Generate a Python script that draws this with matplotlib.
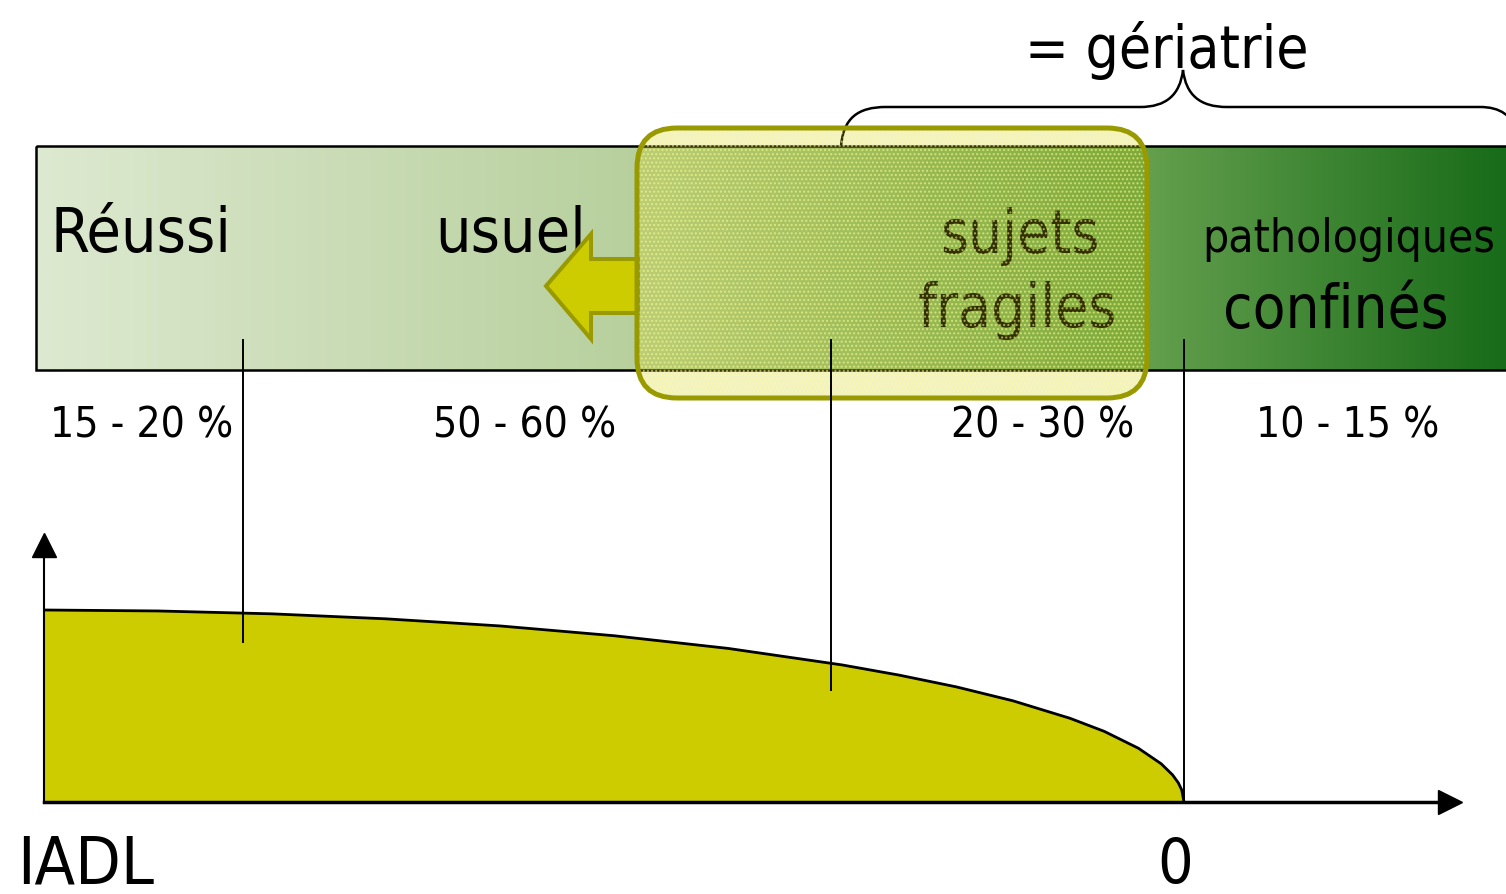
import matplotlib
matplotlib.use("Agg")
import matplotlib.pyplot as plt
import numpy as np
from matplotlib.colors import LinearSegmentedColormap
from matplotlib.patches import Rectangle, FancyBboxPatch, Polygon, PathPatch
from matplotlib.path import Path

# data
categories = ["Réussi", "usuel", "sujets\nfragiles", "pathologiques\nconfinés"]
shares = ["15 - 20 %", "50 - 60 %", "20 - 30 %", "10 - 15 %"]
# population position (%) and IADL level
pop = [0, 10, 20, 30, 40, 50, 60, 70, 75, 80, 85, 90, 93, 96, 98, 99, 99.5, 99.8, 100]
iadl = [100, 99.5, 98, 95.4, 91.7, 86.6, 80, 71.4, 66.1, 60, 52.7, 43.6, 36.8,
        28, 19.9, 14.1, 10, 6.3, 0]
# separators between groups (population %) and where they stop on the IADL axis
sep_pop = [17.5, 69, 100]
sep_low = [83.3, 58.3, 0]

W, H = 1506, 894
fig = plt.figure(figsize=(W / 100, H / 100), dpi=100)
ax = fig.add_axes([0, 0, 1, 1])
ax.set_xlim(0, W)
ax.set_ylim(H, 0)
ax.axis("off")

font = dict(family="DejaVu Sans", fontstretch="condensed", color="black")

# gradient bar
cmap = LinearSegmentedColormap.from_list(
    "bar", [(0, "#dde9d0"), (0.4, "#b8d09e"), (0.75, "#65a04e"), (1, "#176b18")])
grad = np.linspace(0, 1, 512)[None, :]
ax.imshow(grad, cmap=cmap, aspect="auto", extent=[36, 1512, 370, 146], zorder=1)
ax.add_patch(Rectangle((36, 146), 1476, 224, fill=False, ec="black", lw=1.8, zorder=2))

# category labels
ax.text(51, 252, "Réussi", fontsize=45, va="baseline", ha="left", zorder=3, **font)
ax.text(435, 252, "usuel", fontsize=45, va="baseline", ha="left", zorder=3, **font)
ax.text(1020, 253, "sujets", fontsize=43, va="baseline", ha="center", zorder=3, **font)
ax.text(1017, 327, "fragiles", fontsize=43, va="baseline", ha="center", zorder=3, **font)
ax.text(1349, 252, "pathologiques", fontsize=33, va="baseline", ha="center", zorder=3, **font)
ax.text(1336, 328, "confinés", fontsize=43, va="baseline", ha="center", zorder=3, **font)

# shares under the bar
for x, s in zip([50, 433, 951, 1256], shares):
    ax.text(x, 438, s, fontsize=30.5, va="baseline", ha="left", **font)

# arrow pointing left
arrow = Polygon([(546, 286), (591, 234), (591, 259), (638, 259), (638, 313),
                 (591, 313), (591, 339)], closed=True,
                fc="#cccc00", ec="#999900", lw=2.9, joinstyle="miter", zorder=4)
ax.add_patch(arrow)

# fragile box
box_kw = dict(boxstyle="round,pad=0,rounding_size=40")
ax.add_patch(FancyBboxPatch((637, 128), 510, 270, fc="#cccc00", alpha=0.24,
                            ec="none", zorder=5, **box_kw))
ax.add_patch(FancyBboxPatch((637, 128), 510, 270, fc="none", ec=(1, 1, 0.55, 0.55),
                            hatch="....", lw=0, zorder=5, **box_kw))
ax.add_patch(FancyBboxPatch((637, 128), 510, 270, fc="none", ec="#999900",
                            lw=3.6, zorder=6, **box_kw))

# brace
verts = [(841, 147), (843, 118), (858, 107), (886, 107),
         (1140, 107), (1166, 107), (1180, 95), (1183, 70),
         (1186, 95), (1200, 107), (1227, 107),
         (1480, 107), (1500, 107), (1512, 115), (1520, 135)]
codes = [Path.MOVETO, Path.CURVE4, Path.CURVE4, Path.CURVE4,
         Path.LINETO, Path.CURVE4, Path.CURVE4, Path.CURVE4,
         Path.CURVE4, Path.CURVE4, Path.CURVE4,
         Path.LINETO, Path.CURVE4, Path.CURVE4, Path.CURVE4]
ax.add_patch(PathPatch(Path(verts, codes), fc="none", ec="black", lw=1.8, zorder=4))
ax.text(1167, 68, "= gériatrie", fontsize=42, va="baseline", ha="center", **font)

# bottom labels
ax.text(17, 883, "IADL", fontsize=47.5, va="baseline", ha="left", **font)
ax.text(1175, 883, "0", fontsize=45, va="baseline", ha="center", **font)

# IADL curve panel (pixel layout of the panel)
x0, x100, xend = 44, 1184, 1450
y0, y100, yend = 802, 610, 545
cax = fig.add_axes([x0 / W, (H - y0) / H, (xend - x0) / W, (y0 - yend) / H])
kx = 100 / (x100 - x0)
ky = 100 / (y0 - y100)
cax.set_xlim(0, (xend - x0) * kx)
cax.set_ylim(0, (y0 - yend) * ky)
cax.patch.set_visible(False)
cax.set_xticks([])
cax.set_yticks([])
for side in ["top", "right"]:
    cax.spines[side].set_visible(False)
cax.spines["left"].set_linewidth(1.5)
cax.spines["bottom"].set_linewidth(2.5)
cax.plot(1, 0, ">k", ms=17, transform=cax.get_yaxis_transform(), clip_on=False)
cax.plot(0, 1, "^k", ms=17, transform=cax.get_xaxis_transform(), clip_on=False)

cax.fill_between(pop, iadl, 0, color="#cccc00", lw=0)
cax.plot(pop, iadl, color="black", lw=2)

# separators reaching up into the bar
top = (y0 - 340) * ky
for xs, yl in zip(sep_pop, sep_low):
    cax.plot([xs, xs], [yl, top], color="black", lw=1.4, clip_on=False)

fig.savefig("out.png", dpi=100)
